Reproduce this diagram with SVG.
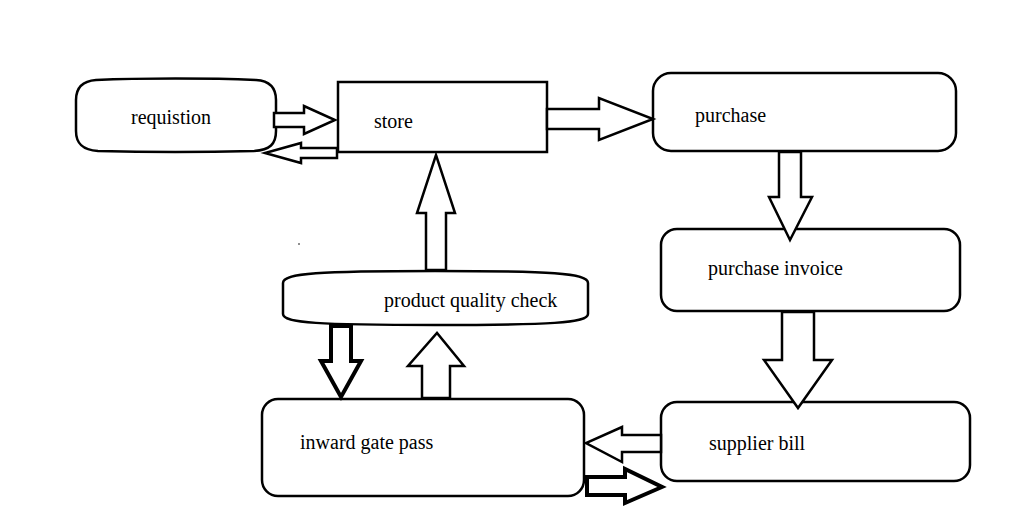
<svg xmlns="http://www.w3.org/2000/svg" width="1022" height="528" viewBox="0 0 1022 528">
<style>
.box{fill:#fff;stroke:#000;stroke-width:2.5}
.arr{fill:#fff;stroke:#000;stroke-width:2.5;stroke-linejoin:miter}
.bold{stroke-width:4}
.lbl{font-family:"Liberation Serif","Times New Roman",serif;font-size:20px;fill:#000}
</style>
<rect width="1022" height="528" fill="#fff"/>
<g id="requistion">
<path class="box" d="M96,80 C140,78 210,78 256,80 C272,81 276,90 276,100 L276,131 C276,144 270,150 254,151 C210,152 140,152 98,151 C82,150 76,143 76,131 L76,100 C76,88 82,81 96,80 Z"/>
<text class="lbl" x="131" y="124">requistion</text>
</g>
<g id="store">
<rect class="box" x="338" y="82" width="209" height="70"/>
<text class="lbl" x="374" y="128">store</text>
</g>
<g id="purchase">
<rect class="box" x="653" y="73" width="303" height="78" rx="18" ry="18"/>
<text class="lbl" x="695" y="122">purchase</text>
</g>
<g id="purchase-invoice">
<rect class="box" x="661" y="229" width="299" height="82" rx="16" ry="16"/>
<text class="lbl" x="708" y="275">purchase invoice</text>
</g>
<g id="product-quality-check">
<path class="box" d="M283,283 C283,273 320,271 435,271 C550,271 588,273 588,283 L588,314 C588,323 550,325 435,325 C320,325 283,323 283,314 Z"/>
<text class="lbl" x="384" y="307">product quality check</text>
</g>
<g id="inward-gate-pass">
<rect class="box" x="262" y="399" width="322" height="97" rx="16" ry="16"/>
<text class="lbl" x="300" y="449">inward gate pass</text>
</g>
<g id="supplier-bill">
<rect class="box" x="661" y="402" width="309" height="79" rx="16" ry="16"/>
<text class="lbl" x="709" y="450">supplier bill</text>
</g>
<g id="connectors">
<polygon class="arr" points="274,113 304,113 304,106 335,120 304,134 304,127 274,127"/>
<polygon class="arr" points="337,148 301,148 301,143 265,153 301,163 301,158 337,158"/>
<polygon class="arr" points="547,109 599,109 599,98 653,119 599,140 599,129 547,129"/>
<polygon class="arr" points="779,152 801,152 801,197 812,197 790,240 769,197 779,197"/>
<polygon class="arr" points="782,312 814,312 814,360 832,360 798,408 764,360 782,360"/>
<polygon class="arr" points="661,435 622,435 622,427 586,443 622,462 622,452 661,452"/>
<polygon class="arr bold" points="587,477 625,477 625,469 662,487 625,503 625,495 587,495"/>
<polygon class="arr" points="426,270 446,270 446,213 455,213 436,155 417,213 426,213"/>
<polygon class="arr bold" points="331,326 351,326 351,361 361,361 341,397 321,361 331,361"/>
<polygon class="arr" points="422,398 450,398 450,366 464,366 437,333 408,366 422,366"/>
</g>
<circle cx="299" cy="244" r="0.8" fill="#000"/>
</svg>
